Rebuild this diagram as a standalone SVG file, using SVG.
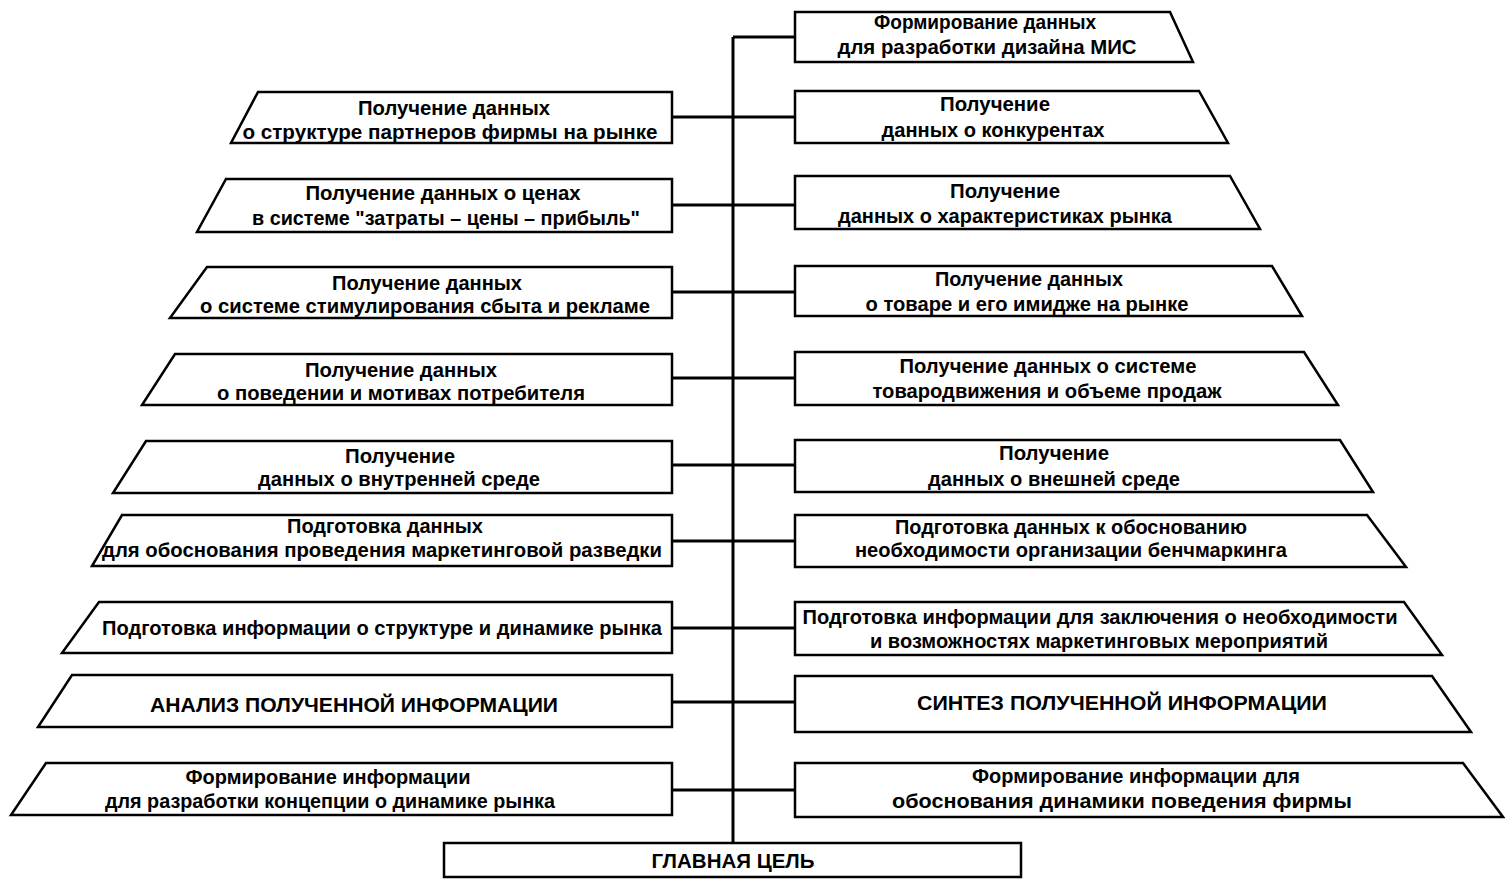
<svg xmlns="http://www.w3.org/2000/svg" width="1505" height="879" viewBox="0 0 1505 879">
<style>
.box{fill:#fff;stroke:#000;stroke-width:2.5;stroke-linejoin:miter}
.ln{stroke:#000;stroke-width:3;fill:none}
text{font-family:"Liberation Sans",Arial,sans-serif;font-weight:bold;font-size:20px;fill:#000;text-anchor:middle}
</style>
<rect width="1505" height="879" fill="#fff"/>
<g id="connectors">
<path class="ln" d="M733,37 V843"/>
<path class="ln" d="M733,37 H795"/>
<path class="ln" d="M672,117 H795"/>
<path class="ln" d="M672,205 H795"/>
<path class="ln" d="M672,292 H795"/>
<path class="ln" d="M672,378 H795"/>
<path class="ln" d="M672,465 H795"/>
<path class="ln" d="M672,541 H795"/>
<path class="ln" d="M672,628 H795"/>
<path class="ln" d="M672,702 H795"/>
<path class="ln" d="M672,790 H795"/>
</g>
<g id="r1"><polygon class="box" points="795,12 1170,12 1193,62 795,62"/>
<text x="985" y="29" textLength="222" lengthAdjust="spacingAndGlyphs">Формирование данных</text>
<text x="987" y="54" textLength="299" lengthAdjust="spacingAndGlyphs">для разработки дизайна МИС</text></g>
<g id="r2"><polygon class="box" points="795,91 1199,91 1228,143 795,143"/>
<text x="995" y="111" textLength="110" lengthAdjust="spacingAndGlyphs">Получение</text>
<text x="993" y="137" textLength="223" lengthAdjust="spacingAndGlyphs">данных о конкурентах</text></g>
<g id="r3"><polygon class="box" points="795,176 1230,176 1260,229 795,229"/>
<text x="1005" y="198" textLength="110" lengthAdjust="spacingAndGlyphs">Получение</text>
<text x="1005" y="223" textLength="334" lengthAdjust="spacingAndGlyphs">данных о характеристиках рынка</text></g>
<g id="r4"><polygon class="box" points="795,266 1272,266 1302,316 795,316"/>
<text x="1029" y="286" textLength="188" lengthAdjust="spacingAndGlyphs">Получение данных</text>
<text x="1027" y="311" textLength="323" lengthAdjust="spacingAndGlyphs">о товаре и его имидже на рынке</text></g>
<g id="r5"><polygon class="box" points="795,352 1304,352 1338,405 795,405"/>
<text x="1048" y="373" textLength="297" lengthAdjust="spacingAndGlyphs">Получение данных о системе</text>
<text x="1047" y="398" textLength="349" lengthAdjust="spacingAndGlyphs">товародвижения и объеме продаж</text></g>
<g id="r6"><polygon class="box" points="795,440 1340,440 1373,492 795,492"/>
<text x="1054" y="460" textLength="110" lengthAdjust="spacingAndGlyphs">Получение</text>
<text x="1054" y="486" textLength="252" lengthAdjust="spacingAndGlyphs">данных о внешней среде</text></g>
<g id="r7"><polygon class="box" points="795,515 1367,515 1406,567 795,567"/>
<text x="1071" y="534" textLength="352" lengthAdjust="spacingAndGlyphs">Подготовка данных к обоснованию</text>
<text x="1071" y="557" textLength="432" lengthAdjust="spacingAndGlyphs">необходимости организации бенчмаркинга</text></g>
<g id="r8"><polygon class="box" points="795,602 1404,602 1442,655 795,655"/>
<text x="1100" y="624" textLength="595" lengthAdjust="spacingAndGlyphs">Подготовка информации для заключения о необходимости</text>
<text x="1099" y="648" textLength="458" lengthAdjust="spacingAndGlyphs">и возможностях маркетинговых мероприятий</text></g>
<g id="r9"><polygon class="box" points="795,676 1432,676 1471,732 795,732"/>
<text x="1122" y="710" textLength="410" lengthAdjust="spacingAndGlyphs">СИНТЕЗ ПОЛУЧЕННОЙ ИНФОРМАЦИИ</text></g>
<g id="r10"><polygon class="box" points="795,763 1463,763 1503,817 795,817"/>
<text x="1136" y="783" textLength="328" lengthAdjust="spacingAndGlyphs">Формирование информации для</text>
<text x="1122" y="808" textLength="460" lengthAdjust="spacingAndGlyphs">обоснования  динамики поведения фирмы</text></g>
<g id="l1"><polygon class="box" points="258,92 672,92 672,143 231,143"/>
<text x="454" y="115" textLength="192" lengthAdjust="spacingAndGlyphs">Получение данных</text>
<text x="450" y="139" textLength="415" lengthAdjust="spacingAndGlyphs">о структуре партнеров фирмы на рынке</text></g>
<g id="l2"><polygon class="box" points="226,179 672,179 672,232 197,232"/>
<text x="443" y="200" textLength="275" lengthAdjust="spacingAndGlyphs">Получение данных о ценах</text>
<text x="446" y="225" textLength="388" lengthAdjust="spacingAndGlyphs">в системе "затраты – цены – прибыль"</text></g>
<g id="l3"><polygon class="box" points="207,267 672,267 672,318 170,318"/>
<text x="427" y="290" textLength="190" lengthAdjust="spacingAndGlyphs">Получение данных</text>
<text x="425" y="313" textLength="450" lengthAdjust="spacingAndGlyphs">о системе стимулирования сбыта и рекламе</text></g>
<g id="l4"><polygon class="box" points="175,354 672,354 672,405 142,405"/>
<text x="401" y="377" textLength="192" lengthAdjust="spacingAndGlyphs">Получение данных</text>
<text x="401" y="400" textLength="368" lengthAdjust="spacingAndGlyphs">о поведении и мотивах потребителя</text></g>
<g id="l5"><polygon class="box" points="146,441 672,441 672,493 113,493"/>
<text x="400" y="463" textLength="110" lengthAdjust="spacingAndGlyphs">Получение</text>
<text x="399" y="486" textLength="282" lengthAdjust="spacingAndGlyphs">данных о внутренней среде</text></g>
<g id="l6"><polygon class="box" points="122,515 672,515 672,566 92,566"/>
<text x="385" y="533" textLength="196" lengthAdjust="spacingAndGlyphs">Подготовка данных</text>
<text x="382" y="557" textLength="560" lengthAdjust="spacingAndGlyphs">для обоснования проведения маркетинговой разведки</text></g>
<g id="l7"><polygon class="box" points="99,602 672,602 672,653 62,653"/>
<text x="382" y="635" textLength="560" lengthAdjust="spacingAndGlyphs">Подготовка информации о структуре и динамике рынка</text></g>
<g id="l8"><polygon class="box" points="72,675 672,675 672,727 38,727"/>
<text x="354" y="712" textLength="408" lengthAdjust="spacingAndGlyphs">АНАЛИЗ ПОЛУЧЕННОЙ ИНФОРМАЦИИ</text></g>
<g id="l9"><polygon class="box" points="46,763 672,763 672,815 11,815"/>
<text x="328" y="784" textLength="285" lengthAdjust="spacingAndGlyphs">Формирование информации</text>
<text x="330" y="808" textLength="450" lengthAdjust="spacingAndGlyphs">для разработки концепции о динамике рынка</text></g>
<g id="goal"><rect class="box" x="444" y="843" width="577" height="34"/>
<text x="733" y="868" font-size="18" textLength="163" lengthAdjust="spacingAndGlyphs">ГЛАВНАЯ ЦЕЛЬ</text></g>
</svg>
